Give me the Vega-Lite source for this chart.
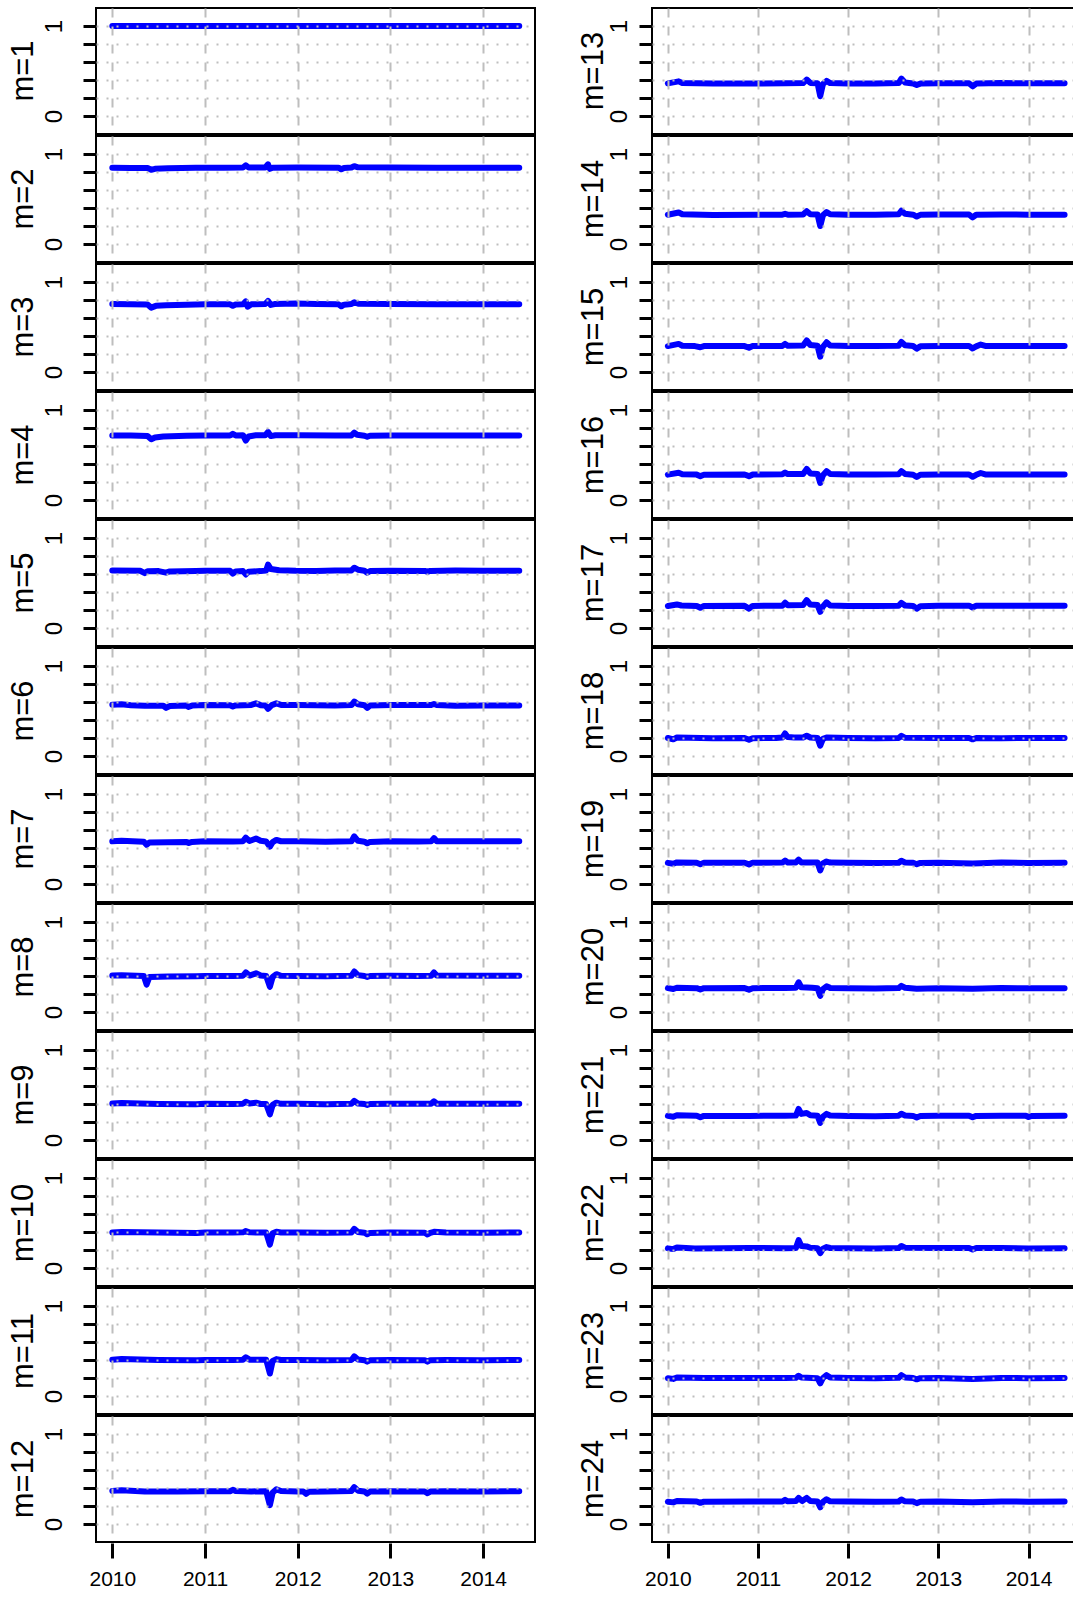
{
"$schema":"https://vega.github.io/schema/vega-lite/v6.json",
"background":"white",
"padding":{"left":8,"top":7,"right":0,"bottom":0},
"autosize":{"type":"pad"},
"spacing":41,
"datasets":{"d":[
{"m":1,"t":2010.0,"v":1},{"m":1,"t":2011.0,"v":1},{"m":1,"t":2012.0,"v":1},{"m":1,"t":2013.0,"v":1},{"m":1,"t":2014.39,"v":1},
{"m":2,"t":2010.0,"v":0.847},{"m":2,"t":2010.2,"v":0.845},{"m":2,"t":2010.38,"v":0.845},{"m":2,"t":2010.42,"v":0.825},{"m":2,"t":2010.46,"v":0.835},{"m":2,"t":2010.6,"v":0.842},{"m":2,"t":2010.9,"v":0.846},{"m":2,"t":2011.2,"v":0.848},{"m":2,"t":2011.41,"v":0.85},{"m":2,"t":2011.44,"v":0.875},{"m":2,"t":2011.47,"v":0.85},{"m":2,"t":2011.65,"v":0.85},{"m":2,"t":2011.68,"v":0.885},{"m":2,"t":2011.7,"v":0.835},{"m":2,"t":2011.73,"v":0.848},{"m":2,"t":2012.0,"v":0.85},{"m":2,"t":2012.44,"v":0.848},{"m":2,"t":2012.47,"v":0.83},{"m":2,"t":2012.5,"v":0.845},{"m":2,"t":2012.58,"v":0.85},{"m":2,"t":2012.61,"v":0.865},{"m":2,"t":2012.65,"v":0.852},{"m":2,"t":2013.0,"v":0.85},{"m":2,"t":2013.5,"v":0.848},{"m":2,"t":2014.0,"v":0.848},{"m":2,"t":2014.39,"v":0.848},
{"m":3,"t":2010.0,"v":0.755},{"m":3,"t":2010.2,"v":0.752},{"m":3,"t":2010.38,"v":0.75},{"m":3,"t":2010.42,"v":0.715},{"m":3,"t":2010.47,"v":0.735},{"m":3,"t":2010.58,"v":0.742},{"m":3,"t":2010.8,"v":0.748},{"m":3,"t":2011.0,"v":0.752},{"m":3,"t":2011.27,"v":0.752},{"m":3,"t":2011.3,"v":0.735},{"m":3,"t":2011.33,"v":0.75},{"m":3,"t":2011.41,"v":0.752},{"m":3,"t":2011.44,"v":0.785},{"m":3,"t":2011.46,"v":0.725},{"m":3,"t":2011.5,"v":0.752},{"m":3,"t":2011.65,"v":0.755},{"m":3,"t":2011.68,"v":0.79},{"m":3,"t":2011.71,"v":0.745},{"m":3,"t":2011.75,"v":0.755},{"m":3,"t":2011.98,"v":0.762},{"m":3,"t":2012.2,"v":0.755},{"m":3,"t":2012.44,"v":0.752},{"m":3,"t":2012.47,"v":0.73},{"m":3,"t":2012.5,"v":0.748},{"m":3,"t":2012.58,"v":0.755},{"m":3,"t":2012.61,"v":0.775},{"m":3,"t":2012.66,"v":0.758},{"m":3,"t":2013.0,"v":0.755},{"m":3,"t":2013.5,"v":0.752},{"m":3,"t":2014.0,"v":0.752},{"m":3,"t":2014.39,"v":0.752},
{"m":4,"t":2010.0,"v":0.718},{"m":4,"t":2010.2,"v":0.716},{"m":4,"t":2010.38,"v":0.712},{"m":4,"t":2010.42,"v":0.675},{"m":4,"t":2010.46,"v":0.695},{"m":4,"t":2010.55,"v":0.705},{"m":4,"t":2010.8,"v":0.714},{"m":4,"t":2011.0,"v":0.716},{"m":4,"t":2011.27,"v":0.716},{"m":4,"t":2011.3,"v":0.735},{"m":4,"t":2011.33,"v":0.718},{"m":4,"t":2011.41,"v":0.72},{"m":4,"t":2011.44,"v":0.66},{"m":4,"t":2011.47,"v":0.705},{"m":4,"t":2011.55,"v":0.72},{"m":4,"t":2011.65,"v":0.72},{"m":4,"t":2011.68,"v":0.755},{"m":4,"t":2011.71,"v":0.71},{"m":4,"t":2011.76,"v":0.72},{"m":4,"t":2012.0,"v":0.72},{"m":4,"t":2012.4,"v":0.716},{"m":4,"t":2012.58,"v":0.718},{"m":4,"t":2012.61,"v":0.748},{"m":4,"t":2012.64,"v":0.725},{"m":4,"t":2012.72,"v":0.714},{"m":4,"t":2012.75,"v":0.702},{"m":4,"t":2012.78,"v":0.714},{"m":4,"t":2013.0,"v":0.716},{"m":4,"t":2013.5,"v":0.718},{"m":4,"t":2014.0,"v":0.716},{"m":4,"t":2014.39,"v":0.716},
{"m":5,"t":2010.0,"v":0.64},{"m":5,"t":2010.3,"v":0.636},{"m":5,"t":2010.35,"v":0.61},{"m":5,"t":2010.38,"v":0.63},{"m":5,"t":2010.5,"v":0.632},{"m":5,"t":2010.58,"v":0.615},{"m":5,"t":2010.62,"v":0.628},{"m":5,"t":2010.9,"v":0.634},{"m":5,"t":2011.0,"v":0.636},{"m":5,"t":2011.27,"v":0.636},{"m":5,"t":2011.3,"v":0.605},{"m":5,"t":2011.33,"v":0.628},{"m":5,"t":2011.41,"v":0.632},{"m":5,"t":2011.44,"v":0.595},{"m":5,"t":2011.47,"v":0.625},{"m":5,"t":2011.6,"v":0.632},{"m":5,"t":2011.66,"v":0.64},{"m":5,"t":2011.68,"v":0.705},{"m":5,"t":2011.71,"v":0.655},{"m":5,"t":2011.8,"v":0.642},{"m":5,"t":2011.98,"v":0.636},{"m":5,"t":2012.2,"v":0.634},{"m":5,"t":2012.4,"v":0.638},{"m":5,"t":2012.58,"v":0.64},{"m":5,"t":2012.61,"v":0.67},{"m":5,"t":2012.65,"v":0.648},{"m":5,"t":2012.72,"v":0.636},{"m":5,"t":2012.75,"v":0.615},{"m":5,"t":2012.78,"v":0.632},{"m":5,"t":2013.0,"v":0.636},{"m":5,"t":2013.37,"v":0.634},{"m":5,"t":2013.4,"v":0.625},{"m":5,"t":2013.43,"v":0.634},{"m":5,"t":2013.7,"v":0.638},{"m":5,"t":2014.0,"v":0.636},{"m":5,"t":2014.39,"v":0.636},
{"m":6,"t":2010.0,"v":0.57},{"m":6,"t":2010.1,"v":0.575},{"m":6,"t":2010.2,"v":0.565},{"m":6,"t":2010.35,"v":0.558},{"m":6,"t":2010.55,"v":0.558},{"m":6,"t":2010.58,"v":0.535},{"m":6,"t":2010.62,"v":0.555},{"m":6,"t":2010.8,"v":0.56},{"m":6,"t":2010.82,"v":0.545},{"m":6,"t":2010.86,"v":0.56},{"m":6,"t":2011.0,"v":0.566},{"m":6,"t":2011.27,"v":0.564},{"m":6,"t":2011.3,"v":0.55},{"m":6,"t":2011.33,"v":0.562},{"m":6,"t":2011.5,"v":0.568},{"m":6,"t":2011.55,"v":0.585},{"m":6,"t":2011.6,"v":0.565},{"m":6,"t":2011.65,"v":0.562},{"m":6,"t":2011.68,"v":0.525},{"m":6,"t":2011.72,"v":0.565},{"m":6,"t":2011.77,"v":0.585},{"m":6,"t":2011.82,"v":0.568},{"m":6,"t":2012.0,"v":0.566},{"m":6,"t":2012.4,"v":0.562},{"m":6,"t":2012.58,"v":0.566},{"m":6,"t":2012.61,"v":0.605},{"m":6,"t":2012.65,"v":0.575},{"m":6,"t":2012.72,"v":0.564},{"m":6,"t":2012.75,"v":0.535},{"m":6,"t":2012.78,"v":0.56},{"m":6,"t":2013.0,"v":0.566},{"m":6,"t":2013.44,"v":0.566},{"m":6,"t":2013.47,"v":0.578},{"m":6,"t":2013.5,"v":0.566},{"m":6,"t":2013.7,"v":0.558},{"m":6,"t":2014.0,"v":0.562},{"m":6,"t":2014.39,"v":0.562},
{"m":7,"t":2010.0,"v":0.475},{"m":7,"t":2010.1,"v":0.48},{"m":7,"t":2010.34,"v":0.47},{"m":7,"t":2010.37,"v":0.435},{"m":7,"t":2010.4,"v":0.462},{"m":7,"t":2010.6,"v":0.465},{"m":7,"t":2010.8,"v":0.468},{"m":7,"t":2010.82,"v":0.455},{"m":7,"t":2010.86,"v":0.468},{"m":7,"t":2011.0,"v":0.474},{"m":7,"t":2011.3,"v":0.472},{"m":7,"t":2011.41,"v":0.476},{"m":7,"t":2011.44,"v":0.515},{"m":7,"t":2011.48,"v":0.478},{"m":7,"t":2011.55,"v":0.505},{"m":7,"t":2011.6,"v":0.48},{"m":7,"t":2011.66,"v":0.472},{"m":7,"t":2011.7,"v":0.415},{"m":7,"t":2011.73,"v":0.465},{"m":7,"t":2011.77,"v":0.49},{"m":7,"t":2011.82,"v":0.475},{"m":7,"t":2012.0,"v":0.474},{"m":7,"t":2012.3,"v":0.47},{"m":7,"t":2012.58,"v":0.474},{"m":7,"t":2012.61,"v":0.53},{"m":7,"t":2012.65,"v":0.48},{"m":7,"t":2012.72,"v":0.47},{"m":7,"t":2012.75,"v":0.452},{"m":7,"t":2012.78,"v":0.468},{"m":7,"t":2013.0,"v":0.474},{"m":7,"t":2013.3,"v":0.472},{"m":7,"t":2013.44,"v":0.474},{"m":7,"t":2013.47,"v":0.51},{"m":7,"t":2013.5,"v":0.475},{"m":7,"t":2014.0,"v":0.474},{"m":7,"t":2014.39,"v":0.474},
{"m":8,"t":2010.0,"v":0.405},{"m":8,"t":2010.1,"v":0.408},{"m":8,"t":2010.34,"v":0.4},{"m":8,"t":2010.37,"v":0.305},{"m":8,"t":2010.4,"v":0.39},{"m":8,"t":2010.6,"v":0.395},{"m":8,"t":2010.9,"v":0.398},{"m":8,"t":2011.0,"v":0.4},{"m":8,"t":2011.3,"v":0.4},{"m":8,"t":2011.41,"v":0.404},{"m":8,"t":2011.44,"v":0.44},{"m":8,"t":2011.48,"v":0.405},{"m":8,"t":2011.55,"v":0.43},{"m":8,"t":2011.6,"v":0.405},{"m":8,"t":2011.66,"v":0.4},{"m":8,"t":2011.7,"v":0.28},{"m":8,"t":2011.73,"v":0.39},{"m":8,"t":2011.77,"v":0.42},{"m":8,"t":2011.82,"v":0.402},{"m":8,"t":2012.0,"v":0.4},{"m":8,"t":2012.3,"v":0.398},{"m":8,"t":2012.58,"v":0.402},{"m":8,"t":2012.61,"v":0.45},{"m":8,"t":2012.65,"v":0.41},{"m":8,"t":2012.72,"v":0.4},{"m":8,"t":2012.75,"v":0.39},{"m":8,"t":2012.78,"v":0.4},{"m":8,"t":2013.0,"v":0.402},{"m":8,"t":2013.3,"v":0.4},{"m":8,"t":2013.44,"v":0.402},{"m":8,"t":2013.47,"v":0.44},{"m":8,"t":2013.5,"v":0.405},{"m":8,"t":2014.0,"v":0.402},{"m":8,"t":2014.39,"v":0.402},
{"m":9,"t":2010.0,"v":0.405},{"m":9,"t":2010.1,"v":0.41},{"m":9,"t":2010.5,"v":0.4},{"m":9,"t":2010.9,"v":0.398},{"m":9,"t":2011.0,"v":0.402},{"m":9,"t":2011.3,"v":0.4},{"m":9,"t":2011.41,"v":0.404},{"m":9,"t":2011.44,"v":0.425},{"m":9,"t":2011.48,"v":0.405},{"m":9,"t":2011.55,"v":0.415},{"m":9,"t":2011.6,"v":0.4},{"m":9,"t":2011.66,"v":0.4},{"m":9,"t":2011.7,"v":0.285},{"m":9,"t":2011.73,"v":0.39},{"m":9,"t":2011.77,"v":0.415},{"m":9,"t":2011.82,"v":0.402},{"m":9,"t":2012.0,"v":0.402},{"m":9,"t":2012.3,"v":0.398},{"m":9,"t":2012.58,"v":0.402},{"m":9,"t":2012.61,"v":0.435},{"m":9,"t":2012.65,"v":0.405},{"m":9,"t":2012.72,"v":0.4},{"m":9,"t":2012.75,"v":0.39},{"m":9,"t":2012.78,"v":0.4},{"m":9,"t":2013.0,"v":0.402},{"m":9,"t":2013.44,"v":0.402},{"m":9,"t":2013.47,"v":0.43},{"m":9,"t":2013.5,"v":0.404},{"m":9,"t":2014.0,"v":0.402},{"m":9,"t":2014.39,"v":0.402},
{"m":10,"t":2010.0,"v":0.395},{"m":10,"t":2010.1,"v":0.4},{"m":10,"t":2010.5,"v":0.394},{"m":10,"t":2010.91,"v":0.39},{"m":10,"t":2011.0,"v":0.394},{"m":10,"t":2011.3,"v":0.394},{"m":10,"t":2011.41,"v":0.396},{"m":10,"t":2011.44,"v":0.41},{"m":10,"t":2011.48,"v":0.396},{"m":10,"t":2011.66,"v":0.394},{"m":10,"t":2011.7,"v":0.26},{"m":10,"t":2011.73,"v":0.385},{"m":10,"t":2011.77,"v":0.402},{"m":10,"t":2011.82,"v":0.394},{"m":10,"t":2012.0,"v":0.395},{"m":10,"t":2012.3,"v":0.392},{"m":10,"t":2012.58,"v":0.394},{"m":10,"t":2012.61,"v":0.435},{"m":10,"t":2012.65,"v":0.4},{"m":10,"t":2012.72,"v":0.392},{"m":10,"t":2012.75,"v":0.375},{"m":10,"t":2012.78,"v":0.39},{"m":10,"t":2013.0,"v":0.394},{"m":10,"t":2013.37,"v":0.392},{"m":10,"t":2013.4,"v":0.372},{"m":10,"t":2013.43,"v":0.39},{"m":10,"t":2013.47,"v":0.402},{"m":10,"t":2013.6,"v":0.394},{"m":10,"t":2014.0,"v":0.392},{"m":10,"t":2014.39,"v":0.394},
{"m":11,"t":2010.0,"v":0.402},{"m":11,"t":2010.1,"v":0.41},{"m":11,"t":2010.5,"v":0.4},{"m":11,"t":2010.91,"v":0.396},{"m":11,"t":2011.0,"v":0.4},{"m":11,"t":2011.3,"v":0.4},{"m":11,"t":2011.41,"v":0.404},{"m":11,"t":2011.44,"v":0.43},{"m":11,"t":2011.48,"v":0.404},{"m":11,"t":2011.66,"v":0.402},{"m":11,"t":2011.7,"v":0.25},{"m":11,"t":2011.73,"v":0.39},{"m":11,"t":2011.77,"v":0.41},{"m":11,"t":2011.82,"v":0.4},{"m":11,"t":2012.0,"v":0.4},{"m":11,"t":2012.3,"v":0.398},{"m":11,"t":2012.58,"v":0.4},{"m":11,"t":2012.61,"v":0.44},{"m":11,"t":2012.65,"v":0.405},{"m":11,"t":2012.72,"v":0.398},{"m":11,"t":2012.75,"v":0.382},{"m":11,"t":2012.78,"v":0.396},{"m":11,"t":2013.0,"v":0.4},{"m":11,"t":2013.37,"v":0.398},{"m":11,"t":2013.4,"v":0.382},{"m":11,"t":2013.43,"v":0.398},{"m":11,"t":2013.6,"v":0.4},{"m":11,"t":2014.0,"v":0.398},{"m":11,"t":2014.39,"v":0.4},
{"m":12,"t":2010.0,"v":0.368},{"m":12,"t":2010.1,"v":0.375},{"m":12,"t":2010.35,"v":0.362},{"m":12,"t":2010.7,"v":0.36},{"m":12,"t":2011.0,"v":0.364},{"m":12,"t":2011.27,"v":0.364},{"m":12,"t":2011.3,"v":0.38},{"m":12,"t":2011.33,"v":0.366},{"m":12,"t":2011.5,"v":0.362},{"m":12,"t":2011.66,"v":0.364},{"m":12,"t":2011.7,"v":0.21},{"m":12,"t":2011.73,"v":0.35},{"m":12,"t":2011.77,"v":0.385},{"m":12,"t":2011.82,"v":0.366},{"m":12,"t":2012.0,"v":0.362},{"m":12,"t":2012.06,"v":0.362},{"m":12,"t":2012.09,"v":0.335},{"m":12,"t":2012.12,"v":0.358},{"m":12,"t":2012.3,"v":0.362},{"m":12,"t":2012.58,"v":0.368},{"m":12,"t":2012.61,"v":0.41},{"m":12,"t":2012.65,"v":0.37},{"m":12,"t":2012.72,"v":0.362},{"m":12,"t":2012.75,"v":0.338},{"m":12,"t":2012.78,"v":0.36},{"m":12,"t":2013.0,"v":0.364},{"m":12,"t":2013.37,"v":0.362},{"m":12,"t":2013.4,"v":0.342},{"m":12,"t":2013.43,"v":0.36},{"m":12,"t":2013.6,"v":0.364},{"m":12,"t":2014.0,"v":0.362},{"m":12,"t":2014.39,"v":0.364},
{"m":13,"t":2010.0,"v":0.362},{"m":13,"t":2010.12,"v":0.385},{"m":13,"t":2010.16,"v":0.366},{"m":13,"t":2010.5,"v":0.36},{"m":13,"t":2011.0,"v":0.362},{"m":13,"t":2011.3,"v":0.364},{"m":13,"t":2011.5,"v":0.366},{"m":13,"t":2011.54,"v":0.405},{"m":13,"t":2011.58,"v":0.368},{"m":13,"t":2011.66,"v":0.364},{"m":13,"t":2011.69,"v":0.22},{"m":13,"t":2011.72,"v":0.355},{"m":13,"t":2011.76,"v":0.39},{"m":13,"t":2011.8,"v":0.366},{"m":13,"t":2012.0,"v":0.362},{"m":13,"t":2012.3,"v":0.36},{"m":13,"t":2012.56,"v":0.366},{"m":13,"t":2012.59,"v":0.415},{"m":13,"t":2012.63,"v":0.372},{"m":13,"t":2012.72,"v":0.362},{"m":13,"t":2012.76,"v":0.345},{"m":13,"t":2012.8,"v":0.36},{"m":13,"t":2013.0,"v":0.364},{"m":13,"t":2013.34,"v":0.364},{"m":13,"t":2013.38,"v":0.33},{"m":13,"t":2013.42,"v":0.36},{"m":13,"t":2013.7,"v":0.366},{"m":13,"t":2014.0,"v":0.364},{"m":13,"t":2014.4,"v":0.364},
{"m":14,"t":2010.0,"v":0.325},{"m":14,"t":2010.12,"v":0.35},{"m":14,"t":2010.16,"v":0.33},{"m":14,"t":2010.5,"v":0.322},{"m":14,"t":2011.0,"v":0.326},{"m":14,"t":2011.27,"v":0.326},{"m":14,"t":2011.3,"v":0.335},{"m":14,"t":2011.33,"v":0.326},{"m":14,"t":2011.5,"v":0.328},{"m":14,"t":2011.54,"v":0.365},{"m":14,"t":2011.58,"v":0.33},{"m":14,"t":2011.66,"v":0.328},{"m":14,"t":2011.69,"v":0.2},{"m":14,"t":2011.72,"v":0.32},{"m":14,"t":2011.76,"v":0.355},{"m":14,"t":2011.8,"v":0.33},{"m":14,"t":2012.0,"v":0.326},{"m":14,"t":2012.3,"v":0.324},{"m":14,"t":2012.56,"v":0.33},{"m":14,"t":2012.59,"v":0.37},{"m":14,"t":2012.63,"v":0.335},{"m":14,"t":2012.72,"v":0.326},{"m":14,"t":2012.76,"v":0.305},{"m":14,"t":2012.8,"v":0.324},{"m":14,"t":2013.0,"v":0.328},{"m":14,"t":2013.34,"v":0.328},{"m":14,"t":2013.38,"v":0.295},{"m":14,"t":2013.42,"v":0.325},{"m":14,"t":2013.7,"v":0.328},{"m":14,"t":2014.0,"v":0.326},{"m":14,"t":2014.4,"v":0.326},
{"m":15,"t":2010.0,"v":0.288},{"m":15,"t":2010.12,"v":0.312},{"m":15,"t":2010.16,"v":0.292},{"m":15,"t":2010.3,"v":0.288},{"m":15,"t":2010.36,"v":0.275},{"m":15,"t":2010.4,"v":0.288},{"m":15,"t":2010.85,"v":0.288},{"m":15,"t":2010.9,"v":0.27},{"m":15,"t":2010.94,"v":0.288},{"m":15,"t":2011.27,"v":0.29},{"m":15,"t":2011.3,"v":0.312},{"m":15,"t":2011.33,"v":0.292},{"m":15,"t":2011.5,"v":0.295},{"m":15,"t":2011.54,"v":0.35},{"m":15,"t":2011.58,"v":0.3},{"m":15,"t":2011.66,"v":0.292},{"m":15,"t":2011.69,"v":0.17},{"m":15,"t":2011.72,"v":0.28},{"m":15,"t":2011.76,"v":0.33},{"m":15,"t":2011.8,"v":0.295},{"m":15,"t":2012.0,"v":0.29},{"m":15,"t":2012.3,"v":0.288},{"m":15,"t":2012.56,"v":0.292},{"m":15,"t":2012.59,"v":0.335},{"m":15,"t":2012.63,"v":0.298},{"m":15,"t":2012.72,"v":0.288},{"m":15,"t":2012.76,"v":0.26},{"m":15,"t":2012.8,"v":0.285},{"m":15,"t":2013.0,"v":0.29},{"m":15,"t":2013.34,"v":0.29},{"m":15,"t":2013.38,"v":0.262},{"m":15,"t":2013.42,"v":0.285},{"m":15,"t":2013.47,"v":0.305},{"m":15,"t":2013.52,"v":0.29},{"m":15,"t":2014.0,"v":0.29},{"m":15,"t":2014.4,"v":0.29},
{"m":16,"t":2010.0,"v":0.282},{"m":16,"t":2010.12,"v":0.302},{"m":16,"t":2010.16,"v":0.286},{"m":16,"t":2010.32,"v":0.282},{"m":16,"t":2010.36,"v":0.265},{"m":16,"t":2010.4,"v":0.28},{"m":16,"t":2010.85,"v":0.284},{"m":16,"t":2010.9,"v":0.265},{"m":16,"t":2010.94,"v":0.282},{"m":16,"t":2011.27,"v":0.285},{"m":16,"t":2011.3,"v":0.305},{"m":16,"t":2011.33,"v":0.288},{"m":16,"t":2011.5,"v":0.29},{"m":16,"t":2011.54,"v":0.345},{"m":16,"t":2011.58,"v":0.295},{"m":16,"t":2011.66,"v":0.29},{"m":16,"t":2011.69,"v":0.19},{"m":16,"t":2011.72,"v":0.275},{"m":16,"t":2011.76,"v":0.32},{"m":16,"t":2011.8,"v":0.29},{"m":16,"t":2012.0,"v":0.284},{"m":16,"t":2012.3,"v":0.282},{"m":16,"t":2012.56,"v":0.286},{"m":16,"t":2012.59,"v":0.32},{"m":16,"t":2012.63,"v":0.29},{"m":16,"t":2012.72,"v":0.28},{"m":16,"t":2012.76,"v":0.255},{"m":16,"t":2012.8,"v":0.28},{"m":16,"t":2013.0,"v":0.284},{"m":16,"t":2013.34,"v":0.284},{"m":16,"t":2013.38,"v":0.258},{"m":16,"t":2013.42,"v":0.28},{"m":16,"t":2013.47,"v":0.3},{"m":16,"t":2013.52,"v":0.284},{"m":16,"t":2014.0,"v":0.284},{"m":16,"t":2014.4,"v":0.284},
{"m":17,"t":2010.0,"v":0.245},{"m":17,"t":2010.1,"v":0.262},{"m":17,"t":2010.15,"v":0.25},{"m":17,"t":2010.32,"v":0.245},{"m":17,"t":2010.36,"v":0.225},{"m":17,"t":2010.4,"v":0.244},{"m":17,"t":2010.85,"v":0.246},{"m":17,"t":2010.9,"v":0.215},{"m":17,"t":2010.94,"v":0.245},{"m":17,"t":2011.27,"v":0.248},{"m":17,"t":2011.3,"v":0.28},{"m":17,"t":2011.33,"v":0.252},{"m":17,"t":2011.5,"v":0.255},{"m":17,"t":2011.54,"v":0.31},{"m":17,"t":2011.58,"v":0.26},{"m":17,"t":2011.66,"v":0.255},{"m":17,"t":2011.69,"v":0.18},{"m":17,"t":2011.72,"v":0.24},{"m":17,"t":2011.76,"v":0.285},{"m":17,"t":2011.8,"v":0.25},{"m":17,"t":2012.0,"v":0.245},{"m":17,"t":2012.3,"v":0.244},{"m":17,"t":2012.56,"v":0.248},{"m":17,"t":2012.59,"v":0.28},{"m":17,"t":2012.63,"v":0.25},{"m":17,"t":2012.72,"v":0.244},{"m":17,"t":2012.76,"v":0.215},{"m":17,"t":2012.8,"v":0.242},{"m":17,"t":2013.0,"v":0.246},{"m":17,"t":2013.34,"v":0.248},{"m":17,"t":2013.38,"v":0.228},{"m":17,"t":2013.42,"v":0.246},{"m":17,"t":2013.7,"v":0.248},{"m":17,"t":2014.0,"v":0.246},{"m":17,"t":2014.4,"v":0.246},
{"m":18,"t":2010.0,"v":0.2},{"m":18,"t":2010.06,"v":0.185},{"m":18,"t":2010.1,"v":0.205},{"m":18,"t":2010.5,"v":0.198},{"m":18,"t":2010.85,"v":0.2},{"m":18,"t":2010.9,"v":0.18},{"m":18,"t":2010.94,"v":0.198},{"m":18,"t":2011.2,"v":0.2},{"m":18,"t":2011.27,"v":0.205},{"m":18,"t":2011.3,"v":0.25},{"m":18,"t":2011.33,"v":0.21},{"m":18,"t":2011.4,"v":0.205},{"m":18,"t":2011.5,"v":0.205},{"m":18,"t":2011.54,"v":0.225},{"m":18,"t":2011.58,"v":0.205},{"m":18,"t":2011.66,"v":0.2},{"m":18,"t":2011.69,"v":0.115},{"m":18,"t":2011.72,"v":0.19},{"m":18,"t":2011.76,"v":0.205},{"m":18,"t":2012.0,"v":0.2},{"m":18,"t":2012.3,"v":0.198},{"m":18,"t":2012.56,"v":0.2},{"m":18,"t":2012.59,"v":0.225},{"m":18,"t":2012.63,"v":0.202},{"m":18,"t":2013.0,"v":0.2},{"m":18,"t":2013.34,"v":0.2},{"m":18,"t":2013.38,"v":0.185},{"m":18,"t":2013.42,"v":0.2},{"m":18,"t":2013.7,"v":0.198},{"m":18,"t":2014.0,"v":0.2},{"m":18,"t":2014.4,"v":0.2},
{"m":19,"t":2010.0,"v":0.235},{"m":19,"t":2010.06,"v":0.225},{"m":19,"t":2010.1,"v":0.24},{"m":19,"t":2010.32,"v":0.236},{"m":19,"t":2010.36,"v":0.22},{"m":19,"t":2010.4,"v":0.235},{"m":19,"t":2010.85,"v":0.236},{"m":19,"t":2010.9,"v":0.218},{"m":19,"t":2010.94,"v":0.235},{"m":19,"t":2011.27,"v":0.238},{"m":19,"t":2011.3,"v":0.26},{"m":19,"t":2011.33,"v":0.24},{"m":19,"t":2011.42,"v":0.24},{"m":19,"t":2011.45,"v":0.27},{"m":19,"t":2011.48,"v":0.24},{"m":19,"t":2011.6,"v":0.24},{"m":19,"t":2011.66,"v":0.238},{"m":19,"t":2011.69,"v":0.15},{"m":19,"t":2011.72,"v":0.228},{"m":19,"t":2011.76,"v":0.25},{"m":19,"t":2011.8,"v":0.238},{"m":19,"t":2012.0,"v":0.236},{"m":19,"t":2012.3,"v":0.234},{"m":19,"t":2012.56,"v":0.236},{"m":19,"t":2012.59,"v":0.258},{"m":19,"t":2012.63,"v":0.24},{"m":19,"t":2012.72,"v":0.236},{"m":19,"t":2012.76,"v":0.22},{"m":19,"t":2012.8,"v":0.234},{"m":19,"t":2013.0,"v":0.236},{"m":19,"t":2013.38,"v":0.228},{"m":19,"t":2013.7,"v":0.238},{"m":19,"t":2014.0,"v":0.234},{"m":19,"t":2014.4,"v":0.236},
{"m":20,"t":2010.0,"v":0.265},{"m":20,"t":2010.06,"v":0.255},{"m":20,"t":2010.1,"v":0.27},{"m":20,"t":2010.32,"v":0.265},{"m":20,"t":2010.36,"v":0.25},{"m":20,"t":2010.4,"v":0.265},{"m":20,"t":2010.85,"v":0.266},{"m":20,"t":2010.9,"v":0.248},{"m":20,"t":2010.94,"v":0.265},{"m":20,"t":2011.3,"v":0.268},{"m":20,"t":2011.42,"v":0.27},{"m":20,"t":2011.45,"v":0.33},{"m":20,"t":2011.48,"v":0.275},{"m":20,"t":2011.6,"v":0.27},{"m":20,"t":2011.66,"v":0.265},{"m":20,"t":2011.69,"v":0.18},{"m":20,"t":2011.72,"v":0.255},{"m":20,"t":2011.76,"v":0.285},{"m":20,"t":2011.8,"v":0.268},{"m":20,"t":2012.0,"v":0.265},{"m":20,"t":2012.3,"v":0.262},{"m":20,"t":2012.56,"v":0.266},{"m":20,"t":2012.59,"v":0.29},{"m":20,"t":2012.63,"v":0.27},{"m":20,"t":2012.76,"v":0.258},{"m":20,"t":2013.0,"v":0.265},{"m":20,"t":2013.38,"v":0.258},{"m":20,"t":2013.7,"v":0.266},{"m":20,"t":2014.0,"v":0.264},{"m":20,"t":2014.4,"v":0.265},
{"m":21,"t":2010.0,"v":0.268},{"m":21,"t":2010.06,"v":0.258},{"m":21,"t":2010.1,"v":0.275},{"m":21,"t":2010.32,"v":0.27},{"m":21,"t":2010.36,"v":0.252},{"m":21,"t":2010.4,"v":0.268},{"m":21,"t":2010.9,"v":0.268},{"m":21,"t":2011.3,"v":0.27},{"m":21,"t":2011.42,"v":0.272},{"m":21,"t":2011.45,"v":0.345},{"m":21,"t":2011.48,"v":0.29},{"m":21,"t":2011.54,"v":0.3},{"m":21,"t":2011.58,"v":0.275},{"m":21,"t":2011.66,"v":0.27},{"m":21,"t":2011.69,"v":0.19},{"m":21,"t":2011.72,"v":0.26},{"m":21,"t":2011.76,"v":0.29},{"m":21,"t":2011.8,"v":0.272},{"m":21,"t":2012.0,"v":0.268},{"m":21,"t":2012.3,"v":0.265},{"m":21,"t":2012.56,"v":0.27},{"m":21,"t":2012.59,"v":0.292},{"m":21,"t":2012.63,"v":0.272},{"m":21,"t":2012.72,"v":0.268},{"m":21,"t":2012.76,"v":0.25},{"m":21,"t":2012.8,"v":0.266},{"m":21,"t":2013.0,"v":0.27},{"m":21,"t":2013.34,"v":0.27},{"m":21,"t":2013.38,"v":0.252},{"m":21,"t":2013.42,"v":0.268},{"m":21,"t":2013.7,"v":0.27},{"m":21,"t":2013.97,"v":0.27},{"m":21,"t":2014.0,"v":0.255},{"m":21,"t":2014.03,"v":0.268},{"m":21,"t":2014.4,"v":0.27},
{"m":22,"t":2010.0,"v":0.218},{"m":22,"t":2010.06,"v":0.21},{"m":22,"t":2010.1,"v":0.228},{"m":22,"t":2010.3,"v":0.218},{"m":22,"t":2010.9,"v":0.222},{"m":22,"t":2011.3,"v":0.22},{"m":22,"t":2011.42,"v":0.222},{"m":22,"t":2011.45,"v":0.31},{"m":22,"t":2011.48,"v":0.245},{"m":22,"t":2011.54,"v":0.24},{"m":22,"t":2011.58,"v":0.225},{"m":22,"t":2011.66,"v":0.22},{"m":22,"t":2011.69,"v":0.165},{"m":22,"t":2011.72,"v":0.215},{"m":22,"t":2011.76,"v":0.232},{"m":22,"t":2011.8,"v":0.222},{"m":22,"t":2012.0,"v":0.22},{"m":22,"t":2012.3,"v":0.218},{"m":22,"t":2012.56,"v":0.222},{"m":22,"t":2012.59,"v":0.245},{"m":22,"t":2012.63,"v":0.225},{"m":22,"t":2013.0,"v":0.222},{"m":22,"t":2013.34,"v":0.222},{"m":22,"t":2013.38,"v":0.205},{"m":22,"t":2013.42,"v":0.222},{"m":22,"t":2013.7,"v":0.222},{"m":22,"t":2014.0,"v":0.218},{"m":22,"t":2014.4,"v":0.22},
{"m":23,"t":2010.0,"v":0.198},{"m":23,"t":2010.06,"v":0.19},{"m":23,"t":2010.1,"v":0.205},{"m":23,"t":2010.4,"v":0.2},{"m":23,"t":2010.9,"v":0.2},{"m":23,"t":2011.3,"v":0.2},{"m":23,"t":2011.42,"v":0.202},{"m":23,"t":2011.45,"v":0.225},{"m":23,"t":2011.48,"v":0.205},{"m":23,"t":2011.6,"v":0.2},{"m":23,"t":2011.66,"v":0.198},{"m":23,"t":2011.69,"v":0.14},{"m":23,"t":2011.72,"v":0.2},{"m":23,"t":2011.76,"v":0.232},{"m":23,"t":2011.8,"v":0.205},{"m":23,"t":2012.0,"v":0.2},{"m":23,"t":2012.3,"v":0.198},{"m":23,"t":2012.56,"v":0.202},{"m":23,"t":2012.59,"v":0.232},{"m":23,"t":2012.63,"v":0.205},{"m":23,"t":2012.72,"v":0.2},{"m":23,"t":2012.76,"v":0.185},{"m":23,"t":2012.8,"v":0.198},{"m":23,"t":2013.0,"v":0.2},{"m":23,"t":2013.38,"v":0.19},{"m":23,"t":2013.7,"v":0.2},{"m":23,"t":2014.0,"v":0.198},{"m":23,"t":2014.4,"v":0.2},
{"m":24,"t":2010.0,"v":0.248},{"m":24,"t":2010.06,"v":0.24},{"m":24,"t":2010.1,"v":0.255},{"m":24,"t":2010.32,"v":0.25},{"m":24,"t":2010.36,"v":0.235},{"m":24,"t":2010.4,"v":0.248},{"m":24,"t":2010.9,"v":0.25},{"m":24,"t":2011.27,"v":0.25},{"m":24,"t":2011.3,"v":0.268},{"m":24,"t":2011.33,"v":0.252},{"m":24,"t":2011.42,"v":0.255},{"m":24,"t":2011.45,"v":0.29},{"m":24,"t":2011.49,"v":0.255},{"m":24,"t":2011.54,"v":0.29},{"m":24,"t":2011.58,"v":0.255},{"m":24,"t":2011.66,"v":0.25},{"m":24,"t":2011.69,"v":0.185},{"m":24,"t":2011.72,"v":0.245},{"m":24,"t":2011.76,"v":0.275},{"m":24,"t":2011.8,"v":0.252},{"m":24,"t":2012.0,"v":0.25},{"m":24,"t":2012.3,"v":0.248},{"m":24,"t":2012.56,"v":0.25},{"m":24,"t":2012.59,"v":0.272},{"m":24,"t":2012.63,"v":0.252},{"m":24,"t":2012.72,"v":0.25},{"m":24,"t":2012.76,"v":0.232},{"m":24,"t":2012.8,"v":0.248},{"m":24,"t":2013.0,"v":0.25},{"m":24,"t":2013.38,"v":0.242},{"m":24,"t":2013.7,"v":0.25},{"m":24,"t":2014.0,"v":0.248},{"m":24,"t":2014.4,"v":0.25}
]},
"hconcat":[
{"data":{"name":"d"},"transform":[{"filter":"datum.m <= 12"}],
 "facet":{"row":{"field":"m","type":"ordinal","title":null,"header":{"labelExpr":"'m=' + datum.value","labelFontSize":31,"labelFont":"Liberation Sans","labelColor":"black","labelAngle":-90,"labelPadding":-13,"labelOrient":"left"}}},
 "spacing":0,
 "spec":{"width":439,"height":126,
  "mark":{"type":"line","color":"#0000ff","strokeWidth":6,"strokeJoin":"round","strokeCap":"round","clip":true},
  "encoding":{
   "x":{"field":"t","type":"quantitative","scale":{"domain":[2009.824,2014.56],"nice":false,"zero":false},
     "axis":{"values":[2010,2011,2012,2013,2014],"format":"d","title":null,"domain":false,"labelFont":"Liberation Sans","labelFontSize":21,"labelColor":"black","labelPadding":10,"labelFlush":false,"tickSize":15,"tickWidth":3,"tickColor":"black","grid":true,"gridColor":"#bebebe","gridDash":[9,9],"gridWidth":2,"zindex":1}},
   "y":{"field":"v","type":"quantitative","scale":{"domain":[-0.2,1.2],"nice":false,"zero":false},
     "axis":{"values":[0,0.2,0.4,0.6,0.8,1],"labelExpr":"datum.value == 0 ? '0' : (datum.value == 1 ? '1' : '')","title":null,"domain":false,"labelFont":"Liberation Sans","labelFontSize":24,"labelColor":"black","labelAngle":-90,"labelPadding":17,"tickSize":12,"tickWidth":3,"tickColor":"black","grid":true,"gridColor":"#bebebe","gridDash":[2,8],"gridWidth":2,"zindex":1}}
  }}
},
{"data":{"name":"d"},"transform":[{"filter":"datum.m > 12"}],
 "facet":{"row":{"field":"m","type":"ordinal","title":null,"header":{"labelExpr":"'m=' + datum.value","labelFontSize":31,"labelFont":"Liberation Sans","labelColor":"black","labelAngle":-90,"labelPadding":-18,"labelOrient":"left"}}},
 "spacing":0,
 "spec":{"width":427,"height":126,
  "mark":{"type":"line","color":"#0000ff","strokeWidth":6,"strokeJoin":"round","strokeCap":"round","clip":true},
  "encoding":{
   "x":{"field":"t","type":"quantitative","scale":{"domain":[2009.824,2014.56],"nice":false,"zero":false},
     "axis":{"values":[2010,2011,2012,2013,2014],"format":"d","title":null,"domain":false,"labelFont":"Liberation Sans","labelFontSize":21,"labelColor":"black","labelPadding":10,"labelFlush":false,"tickSize":15,"tickWidth":3,"tickColor":"black","grid":true,"gridColor":"#bebebe","gridDash":[9,9],"gridWidth":2,"zindex":1}},
   "y":{"field":"v","type":"quantitative","scale":{"domain":[-0.2,1.2],"nice":false,"zero":false},
     "axis":{"values":[0,0.2,0.4,0.6,0.8,1],"labelExpr":"datum.value == 0 ? '0' : (datum.value == 1 ? '1' : '')","title":null,"domain":false,"labelFont":"Liberation Sans","labelFontSize":24,"labelColor":"black","labelAngle":-90,"labelPadding":8,"tickSize":12,"tickWidth":3,"tickColor":"black","grid":true,"gridColor":"#bebebe","gridDash":[2,8],"gridWidth":2,"zindex":1}}
  }}
}
],
"config":{
 "font":"Liberation Sans",
 "view":{"stroke":"black","strokeWidth":2}
}
}
